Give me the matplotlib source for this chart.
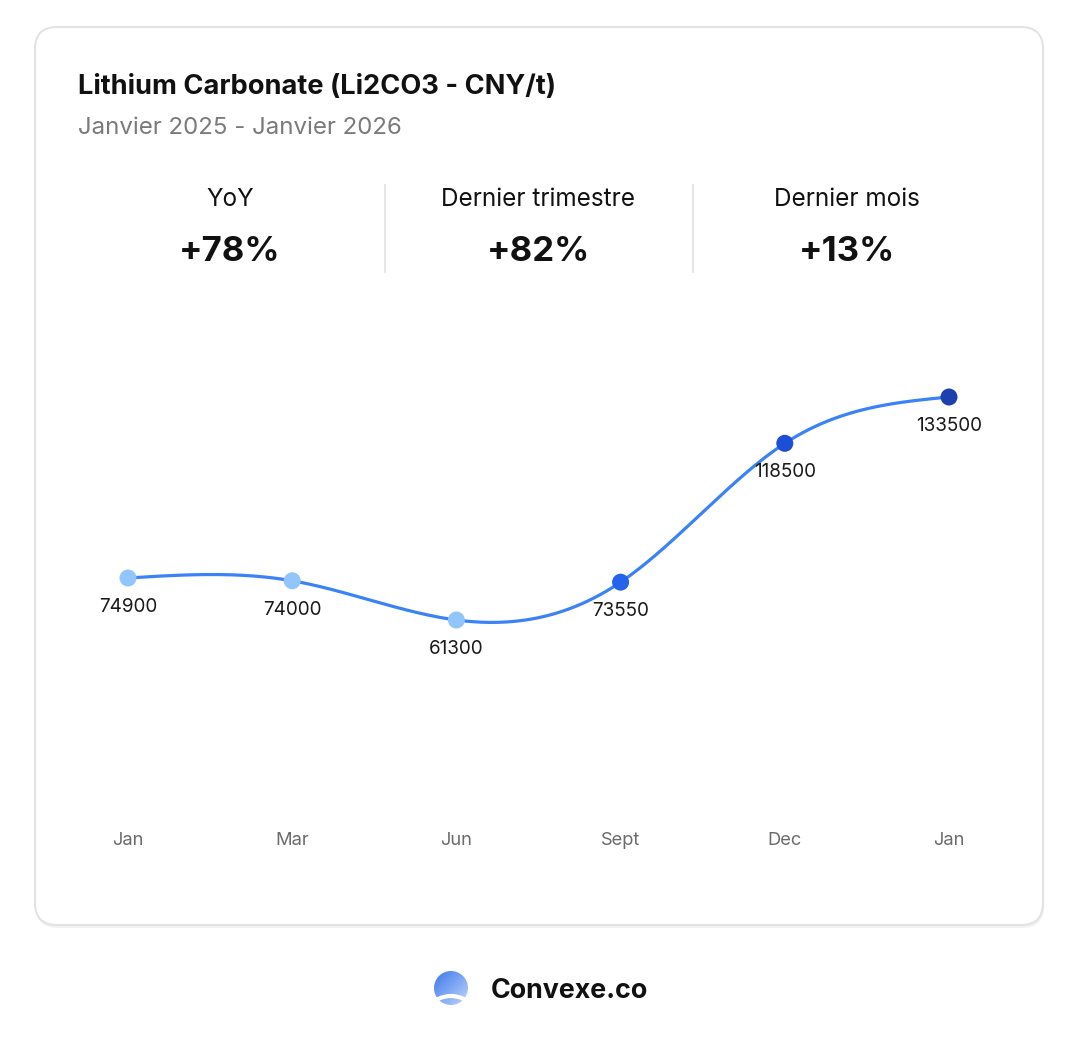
import numpy as np
import matplotlib.pyplot as plt
from matplotlib.patches import FancyBboxPatch, Circle, Arc
from matplotlib.colors import LinearSegmentedColormap

plt.rcParams['font.family'] = ['Inter', 'DejaVu Sans']

# data
months = ['Jan', 'Mar', 'Jun', 'Sept', 'Dec', 'Jan']
prices = [74900, 74000, 61300, 73550, 118500, 133500]
point_colors = ['#93c5fd', '#93c5fd', '#93c5fd', '#2563eb', '#1d4ed8', '#1e40af']
stat_labels = ['YoY', 'Dernier trimestre', 'Dernier mois']
stat_values = ['+78%', '+82%', '+13%']
title = 'Lithium Carbonate (Li2CO3 - CNY/t)'
subtitle = 'Janvier 2025 - Janvier 2026'


def natural_spline(x, y, n=80):
    """Courbe spline cubique naturelle passant par les points."""
    x = np.asarray(x, float)
    y = np.asarray(y, float)
    k = len(x)
    h = np.diff(x)
    A = np.zeros((k, k))
    b = np.zeros(k)
    A[0, 0] = A[-1, -1] = 1
    for i in range(1, k - 1):
        A[i, i - 1] = h[i - 1]
        A[i, i] = 2 * (h[i - 1] + h[i])
        A[i, i + 1] = h[i]
        b[i] = 6 * ((y[i + 1] - y[i]) / h[i] - (y[i] - y[i - 1]) / h[i - 1])
    M = np.linalg.solve(A, b)
    xs, ys = [], []
    for i in range(k - 1):
        t = np.linspace(x[i], x[i + 1], n)
        a = x[i + 1] - t
        c = t - x[i]
        s = (M[i] * a ** 3 + M[i + 1] * c ** 3) / (6 * h[i]) \
            + (y[i] / h[i] - M[i] * h[i] / 6) * a \
            + (y[i + 1] / h[i] - M[i + 1] * h[i] / 6) * c
        xs.append(t)
        ys.append(s)
    return np.concatenate(xs), np.concatenate(ys)


W, H = 1080, 1040
fig = plt.figure(figsize=(W / 100, H / 100), dpi=100)
fig.patch.set_facecolor('white')

# fond en coordonnées pixels
bg = fig.add_axes([0, 0, 1, 1])
bg.set_xlim(0, W)
bg.set_ylim(H, 0)
bg.axis('off')

# carte
shadow = FancyBboxPatch((36, 30), 1008, 898, boxstyle='round,pad=0,rounding_size=22',
                        facecolor='#f2f2f2', edgecolor='none', zorder=0)
bg.add_patch(shadow)
card = FancyBboxPatch((35, 27), 1008, 898, boxstyle='round,pad=0,rounding_size=22',
                      facecolor='white', edgecolor='#e3e3e3', linewidth=1.5, zorder=1)
bg.add_patch(card)

bg.text(78, 87, title, fontsize=19.6, fontweight='bold', color='#111111',
        va='center', ha='left', zorder=2)
bg.text(78, 128, subtitle, fontsize=17.3, color='#7a7a7a',
        va='center', ha='left', zorder=2)

stat_x = [230, 538, 847]
for sx, lab, val in zip(stat_x, stat_labels, stat_values):
    bg.text(sx, 200, lab, fontsize=17.5, color='#111111', ha='center', va='center', zorder=2)
    bg.text(sx, 252, val, fontsize=25, fontweight='bold', color='#111111',
            ha='center', va='center', zorder=2)
for dx in [384.5, 692.5]:
    bg.plot([dx, dx], [185, 272], color='#e2e2e2', linewidth=1.2, zorder=2)

# logo
logo_cmap = LinearSegmentedColormap.from_list('logo', ['#3f78ea', '#7ea6f3', '#c3d6fa'])
logo = Circle((451, 988), 17, transform=bg.transData)
grad = np.linspace(0, 1, 64)
gx, gy = np.meshgrid(grad, grad)
img = bg.imshow(0.5 * gx + 0.5 * gy, cmap=logo_cmap, vmin=0, vmax=1,
                extent=[434, 468, 1005, 971], zorder=3, aspect='auto')
img.set_clip_path(logo)
bg.add_patch(Arc((451, 1014), 46, 36, theta1=200, theta2=340, color='white',
                 linewidth=3, zorder=4))
bg.set_xlim(0, W)
bg.set_ylim(H, 0)
bg.text(491, 991, 'Convexe.co', fontsize=19.3, fontweight='bold', color='#111111',
        ha='left', va='center', zorder=3)

# graphique
x = np.arange(len(prices))
ax = fig.add_axes([128 / W, 1 - 620 / H, 821 / W, 223 / H])
ax.set_xlim(0, len(prices) - 1)
ax.set_ylim(min(prices), max(prices))
ax.axis('off')
ax.patch.set_alpha(0)

sx_, sy_ = natural_spline(x, prices)
ax.plot(sx_, sy_, color='#3b82f6', linewidth=2.3, clip_on=False, zorder=3,
        solid_capstyle='round')
ax.scatter(x, prices, s=150, c=point_colors, zorder=4, clip_on=False, linewidths=0)

for xi, p in zip(x, prices):
    ax.annotate(f'{p}', (xi, p), xytext=(0, -21), textcoords='offset points',
                ha='center', va='center', fontsize=13.6, color='#1a1a1a',
                annotation_clip=False, zorder=5)
    ax.annotate(months[xi], (xi, min(prices)), xytext=(0, -159), textcoords='offset points',
                ha='center', va='center', fontsize=13.2, color='#6b6b6b',
                annotation_clip=False)

fig.savefig('out.png', dpi=100, facecolor='white')
